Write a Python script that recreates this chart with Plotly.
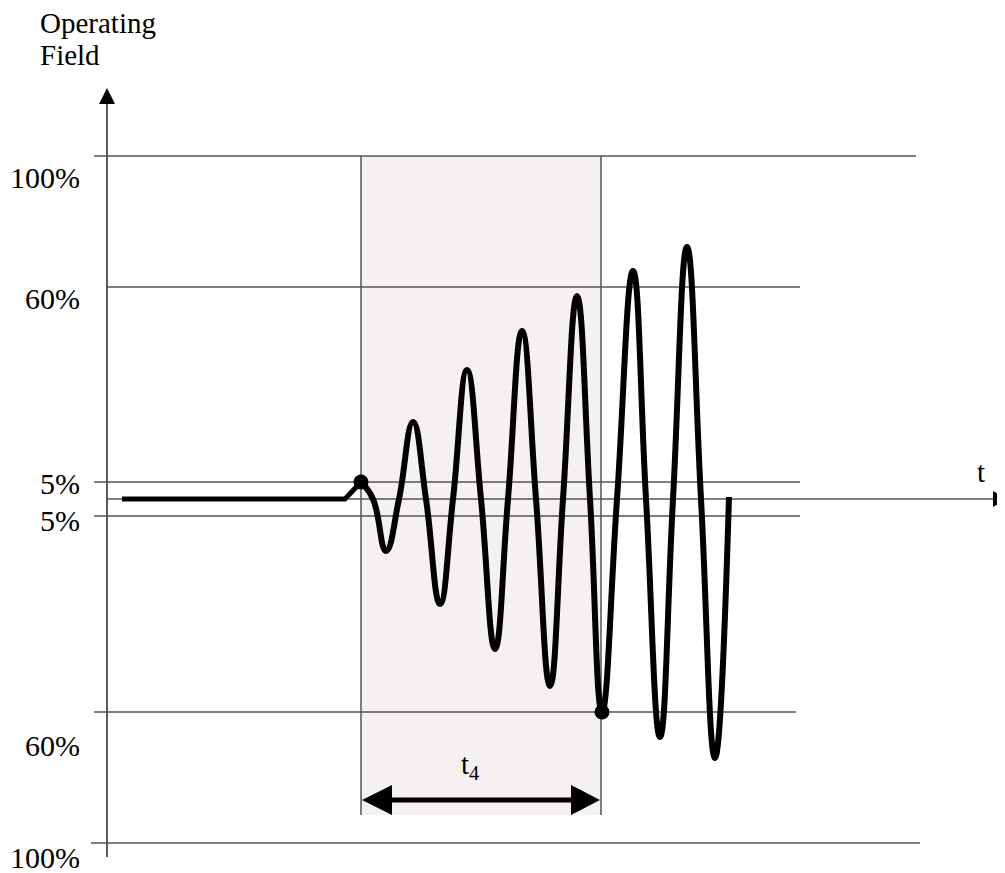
import plotly.graph_objects as go

# Drawing units: x runs along time, y is the field measured from the time axis
level_labels = ["100%", "60%", "5%", "5%", "60%", "100%"]
level_values = [343, 212, 17, -17, -213, -344]

# flat lead-in before the monitoring window
lead_x = [122, 345, 361]
lead_y = [0, 0, 17]

# oscillation: extrema and axis crossings
wave_x = [361, 373, 386, 399, 413, 426, 440, 453, 467, 481, 495, 508, 522, 536,
          550, 563, 577, 590, 602, 617, 633, 646, 660, 673, 687, 701, 715, 729]
wave_y = [17, 0, -52, 0, 77, 0, -105, 0, 129, 0, -150, 0, 168, 0,
          -187, 0, 203, 0, -213, 0, 228, 0, -238, 0, 252, 0, -259, 2]

# marked points: start of window and the point where -60% is reached
dot_x = [361, 602]
dot_y = [17, -213]

window_start = 361
window_end = 601

SERIF = "'Liberation Serif', 'Times New Roman', serif"
LINE_GREY = "#555555"

fig = go.Figure()

# reference level lines (left end, right end)
level_extent = [(94, 916), (107, 800), (94, 800), (94, 800), (94, 796), (91, 920)]
for val, (x0, x1) in zip(level_values, level_extent):
    fig.add_trace(go.Scatter(x=[x0, x1], y=[val, val], mode="lines",
                             line=dict(color=LINE_GREY, width=1.3),
                             hoverinfo="skip", showlegend=False))

fig.add_trace(go.Scatter(x=lead_x, y=lead_y, mode="lines",
                         line=dict(color="black", width=5),
                         hoverinfo="skip", showlegend=False))
fig.add_trace(go.Scatter(x=wave_x, y=wave_y, mode="lines",
                         line=dict(color="black", width=6, shape="spline", smoothing=1.3),
                         hoverinfo="skip", showlegend=False))
fig.add_trace(go.Scatter(x=dot_x, y=dot_y, mode="markers",
                         marker=dict(color="black", size=15),
                         hoverinfo="skip", showlegend=False))

shapes = [
    # shaded window
    dict(type="rect", x0=window_start, x1=window_end, y0=-316, y1=343,
         fillcolor="#F4F1F0", line=dict(width=0), layer="below"),
    dict(type="line", x0=window_start, x1=window_start, y0=-316, y1=343,
         line=dict(color="black", width=1), layer="below"),
    dict(type="line", x0=window_end, x1=window_end, y0=-316, y1=343,
         line=dict(color="black", width=1), layer="below"),
    # axes
    dict(type="line", x0=107, x1=107, y0=-358, y1=396,
         line=dict(color="black", width=1.3), layer="below"),
    dict(type="path", path="M 99 395 L 115 395 L 107 411 Z",
         fillcolor="black", line=dict(width=0)),
    dict(type="line", x0=107, x1=994, y0=0, y1=0,
         line=dict(color=LINE_GREY, width=1.3), layer="below"),
    dict(type="path", path="M 993 8 L 993 -8 L 1007 0 Z",
         fillcolor="black", line=dict(width=0)),
    # t4 double arrow
    dict(type="line", x0=390, x1=573, y0=-301, y1=-301,
         line=dict(color="black", width=5)),
    dict(type="path", path="M 362 -301 L 392 -286 L 392 -316 Z",
         fillcolor="black", line=dict(width=0)),
    dict(type="path", path="M 600 -301 L 571 -286 L 571 -316 Z",
         fillcolor="black", line=dict(width=0)),
]

label_y = [322, 201, 16, -21, -246, -358]
annotations = []
for txt, yy in zip(level_labels, label_y):
    annotations.append(dict(x=82, y=yy, text=txt, showarrow=False,
                            xanchor="right", yanchor="middle",
                            font=dict(family=SERIF, size=30, color="black")))
annotations += [
    dict(x=38, y=476, text="Operating", showarrow=False, xanchor="left", yanchor="middle",
         font=dict(family=SERIF, size=29, color="black")),
    dict(x=38, y=444, text="Field", showarrow=False, xanchor="left", yanchor="middle",
         font=dict(family=SERIF, size=29, color="black")),
    dict(x=981, y=27, text="t", showarrow=False, xanchor="center", yanchor="middle",
         font=dict(family=SERIF, size=29, color="black")),
    dict(x=470, y=-267, text="t<sub>4</sub>", showarrow=False, xanchor="center", yanchor="middle",
         font=dict(family=SERIF, size=29, color="black")),
]

# the page body has an 8px margin, so the figure is shrunk by 8px and the
# axis ranges start 8px in, keeping one data unit = one screen pixel
fig.update_layout(
    width=997, height=865,
    margin=dict(l=0, r=0, t=0, b=0),
    paper_bgcolor="white", plot_bgcolor="white",
    xaxis=dict(range=[8, 1005], visible=False, fixedrange=True),
    yaxis=dict(range=[-374, 491], visible=False, fixedrange=True),
    shapes=shapes,
    annotations=annotations,
    showlegend=False,
)

fig.write_html("out.html")
